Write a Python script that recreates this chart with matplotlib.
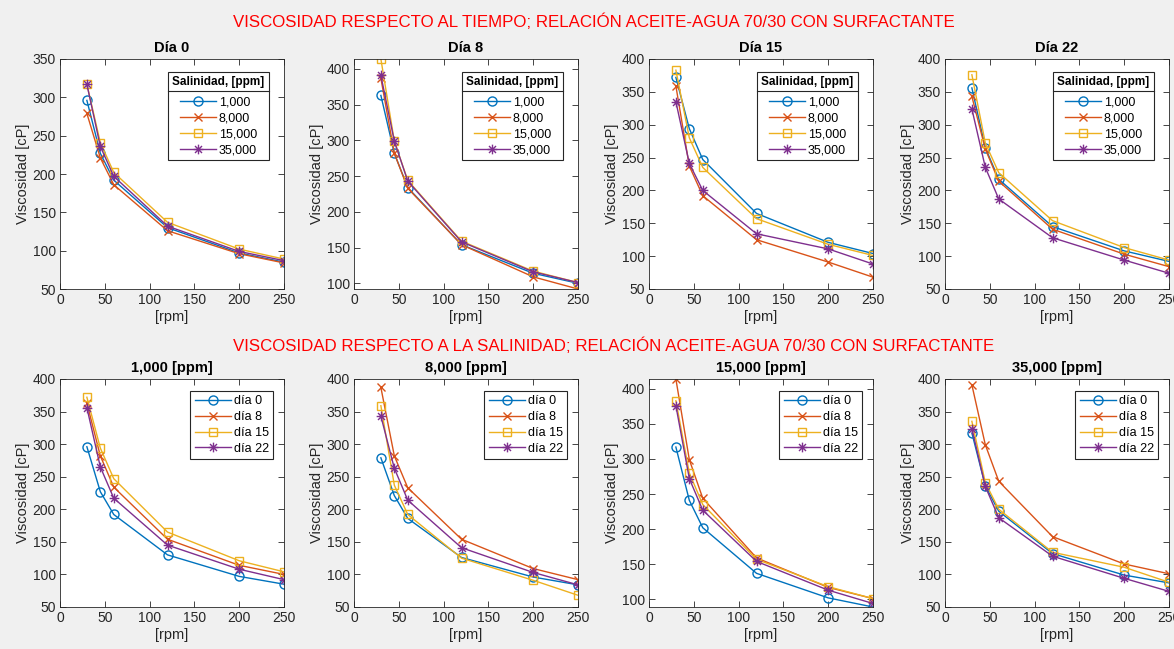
import matplotlib
matplotlib.use("Agg")
import matplotlib.pyplot as plt
from matplotlib.lines import Line2D
from matplotlib.path import Path
from matplotlib.ticker import MultipleLocator
import numpy as np

rpm = [30, 45, 60, 120, 200, 250]
salinidades = ['1,000', '8,000', '15,000', '35,000']
dias = ['0', '8', '15', '22']

# viscosidad [cP] por día; filas = salinidad 1,000 / 8,000 / 15,000 / 35,000
dia_0 = [[296, 227, 192, 130, 97, 85],
         [279, 221, 186, 126, 96, 84],
         [317, 241, 202, 137, 102, 89],
         [317, 236, 197, 132, 99, 87]]
dia_8 = [[363, 282, 234, 154, 114, 100],
         [387, 282, 233, 154, 109, 92],
         [414, 299, 244, 159, 117, 101],
         [391, 299, 243, 158, 116, 101]]
dia_15 = [[372, 294, 247, 165, 121, 104],
          [359, 237, 192, 125, 91, 68],
          [383, 280, 235, 157, 118, 101],
          [335, 241, 200, 134, 111, 88]]
dia_22 = [[356, 265, 217, 145, 108, 92],
          [343, 263, 214, 141, 103, 84],
          [376, 272, 227, 154, 113, 94],
          [324, 235, 187, 128, 94, 74]]

datos = np.array([dia_0, dia_8, dia_15, dia_22])  # [dia, salinidad, rpm]

# asterisco estilo MATLAB (+ y x superpuestos)
d = 0.72
asterisco = Path([(-1, 0), (1, 0), (0, -1), (0, 1), (-d, -d), (d, d), (-d, d), (d, -d)],
                 [Path.MOVETO, Path.LINETO] * 4)

colores = ['#0072BD', '#D95319', '#EDB120', '#7E2F8E']
marcas = ['o', 'x', 's', asterisco]
tamanos = [6.5, 5.5, 6, 7]
gris = '#262626'

plt.rcParams['font.family'] = ['Liberation Sans', 'DejaVu Sans']
plt.rcParams['font.size'] = 10

fig = plt.figure(figsize=(11.74, 6.49), dpi=100, facecolor='#F0F0F0')

W, H = 1174.0, 649.0
lefts = [60, 354, 649, 945]
ancho = 224


def panel(ax, series, etiquetas, titulo, leg_title, anchor):
    for k, y in enumerate(series):
        ax.plot(rpm, y, color=colores[k], marker=marcas[k], markersize=tamanos[k],
                markerfacecolor='none', markeredgewidth=1.0, linewidth=1.0,
                label=etiquetas[k])
    ymax = max(max(s) for s in series)
    ymin = min(min(s) for s in series)
    if ymax > 400:
        ax.set_ylim(ymin, ymax)
    else:
        ax.set_ylim(50, np.ceil(ymax / 50) * 50)
    ax.set_xlim(0, 250)
    ax.xaxis.set_major_locator(MultipleLocator(50))
    ax.yaxis.set_major_locator(MultipleLocator(50))
    ax.tick_params(direction='in', top=True, right=True, length=4, width=0.6,
                   colors=gris, labelsize=10, pad=3)
    for s in ax.spines.values():
        s.set_color(gris)
        s.set_linewidth(0.6)
    ax.set_title(titulo, fontsize=10.5, fontweight='bold', pad=5)
    ax.set_xlabel('[rpm]', fontsize=10.5, color=gris, labelpad=2)
    ax.set_ylabel('Viscosidad [cP]', fontsize=10.5, color=gris, labelpad=2)
    leg = ax.legend(loc='upper right', bbox_to_anchor=anchor, borderaxespad=0,
                    fancybox=False, edgecolor=gris, framealpha=1,
                    fontsize=9, handlelength=2.9, handletextpad=0.2,
                    labelspacing=0.3, borderpad=0.35,
                    title=leg_title,
                    title_fontproperties={'weight': 'bold', 'size': 8.5})
    leg.get_frame().set_linewidth(0.8)
    leg._legend_box.sep = 6
    return leg


leyendas = []
for i in range(4):
    ax = fig.add_axes([lefts[i] / W, 1 - 289 / H, ancho / W, 230 / H])
    leg = panel(ax, datos[i], salinidades, 'Día ' + dias[i],
                'Salinidad, [ppm]', (0.933, 0.943))
    leyendas.append(leg)

for j in range(4):
    ax = fig.add_axes([lefts[j] / W, 1 - 607 / H, ancho / W, 228 / H])
    panel(ax, datos[:, j, :], ['día ' + d for d in dias],
          salinidades[j] + ' [ppm]', None, (0.951, 0.947))

fig.text(594 / W, 1 - 22 / H,
         'VISCOSIDAD RESPECTO AL TIEMPO; RELACIÓN ACEITE-AGUA 70/30 CON SURFACTANTE',
         color='red', fontsize=12.2, ha='center', va='center')
fig.text(614 / W, 1 - 346 / H,
         'VISCOSIDAD RESPECTO A LA SALINIDAD; RELACIÓN ACEITE-AGUA 70/30 CON SURFACTANTE',
         color='red', fontsize=12.2, ha='center', va='center')

# línea separadora bajo el título de la leyenda (estilo MATLAB)
fig.canvas.draw()
inv = fig.transFigure.inverted()
for leg in leyendas:
    fb = leg.get_frame().get_window_extent()
    tb = leg.get_title().get_window_extent()
    y = tb.y0 - 3
    (x0, y0), (x1, _) = inv.transform([(fb.x0, y), (fb.x1, y)])
    fig.add_artist(Line2D([x0, x1], [y0, y0], transform=fig.transFigure,
                          color=gris, linewidth=0.8))

fig.savefig('out.png', dpi=100, facecolor=fig.get_facecolor())
